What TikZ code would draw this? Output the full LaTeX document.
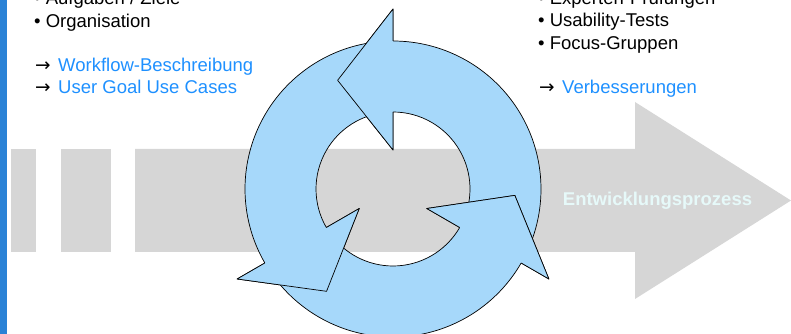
\documentclass[tikz,border=0pt]{standalone}
\usepackage{fontspec}
\setmainfont{Liberation Sans}
\newfontfamily\arrowfont{DejaVu Sans}
\definecolor{barblue}{RGB}{42,130,214}
\definecolor{bandgrey}{RGB}{214,214,214}
\definecolor{ringblue}{RGB}{166,216,250}
\definecolor{linkblue}{RGB}{30,144,255}
\definecolor{procwhite}{RGB}{230,249,249}
\newcommand{\arr}{\makebox[24pt][l]{\hspace{1pt}{\arrowfont →}}}
\begin{document}
\begin{tikzpicture}[x=1pt,y=1pt,
  txt/.style={anchor=base west,inner sep=0pt,font=\fontsize{18.5}{22.3}\selectfont},
  ringpart/.style={fill=ringblue,draw=black,line width=0.7pt,line join=round},
  greybox/.style={fill=bandgrey,draw=none}]
\useasboundingbox (0,0) rectangle (791,334);
\clip (0,0) rectangle (791,334);
% left blue bar
\fill[barblue] (0,0) rectangle (7,334);
% grey band and process arrow
\fill[greybox] (11,82) rectangle (36,185);
\fill[greybox] (61,82) rectangle (111,185);
\fill[greybox] (135,82) -- (135,185) -- (635,185) -- (635,232) -- (791,133.5) -- (635,35) -- (635,82) -- cycle;
\node[anchor=base,inner sep=0pt,font=\fontsize{18.5}{22.3}\selectfont\bfseries,text=procwhite] (proc) at (657.5,128) {Entwicklungsprozess};
% cycle of three arrows
\begin{scope}[shift={(393,145)}]
  \foreach \t in {90,210,330}{
    \pgfmathsetmacro{\e}{\t-115}
    \pgfmathsetmacro{\h}{\t+27}
    \path[ringpart] (\t:180) -- (\h:122) -- (\t:39) -- (\t:77)
      arc[start angle=\t,end angle=\e,radius=77] -- (\e:148)
      arc[start angle=\e,end angle=\t,radius=148] -- cycle;
  }
  \foreach \t in {90,210,330}{
    \pgfmathsetmacro{\h}{\t+27}
    \fill[ringblue] (\t:180) -- (\h:122) -- (\t:39) -- cycle;
    \draw[line width=0.7pt,line join=round] (\t:148) -- (\t:180) -- (\h:122) -- (\t:39) -- (\t:77);
  }
\end{scope}
% left text column
\node[txt] (l1) at (34,329) {• Aufgaben / Ziele};
\node[txt] (l2) at (34,306.8) {• Organisation};
\node[txt] (l3) at (34,262.3) {\arr\textcolor{linkblue}{Workflow-Beschreibung}};
\node[txt] (l4) at (34,240.3) {\arr\textcolor{linkblue}{User Goal Use Cases}};
% right text column
\node[txt] (r1) at (538,329) {• Experten-Prüfungen};
\node[txt] (r2) at (538,307.2) {• Usability-Tests};
\node[txt] (r3) at (538,284.8) {• Focus-Gruppen};
\node[txt] (r4) at (538,240.2) {\arr\textcolor{linkblue}{Verbesserungen}};
\end{tikzpicture}
\end{document}
